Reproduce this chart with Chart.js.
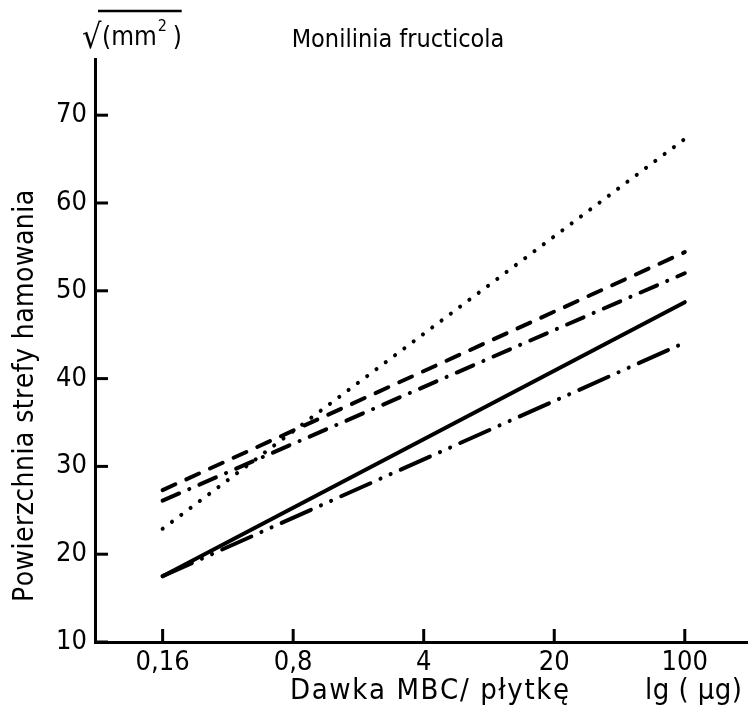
<!DOCTYPE html>
<html>
<head>
<meta charset="utf-8">
<script src="https://cdn.jsdelivr.net/npm/chart.js@4"></script>
<style>
  body { margin: 0; background: #fff; }
  #box { width: 748px; height: 711px; position: relative; }
</style>
</head>
<body>
<div id="box"><canvas id="mycanvas"></canvas></div>
<script>
// dose (ug per plate), log axis
var doses = [0.16, 0.8, 4, 20, 100];
var yTicks = [10, 20, 30, 40, 50, 60, 70];
// each line only known at its two ends (straight in lg scale)
var lineEnds = [0.16, 100];
var dotted = [22.9, 67.3];
var dashed = [27.3, 54.4];
var dashDot = [26.1, 52.0];
var solid = [17.5, 48.7];
var dashDotDot = [17.5, 44.1];

function pts(vals) {
	var out = [];
	for (var i in vals) out.push({x: lineEnds[i], y: vals[i]});
	return out;
}

var FONT = "'DejaVu Sans Condensed', 'DejaVu Sans', sans-serif";

function ds(label, vals, dash) {
	return {
		label: label,
		data: pts(vals),
		borderColor: '#000',
		borderWidth: 4,
		borderDash: dash,
		borderCapStyle: 'round',
		pointRadius: 0,
		fill: false,
		tension: 0
	};
}

// draw text stretched to a given width (letters spread out like the original lettering)
function spread(c, txt, x, y, w) {
	var chars = txt.split('');
	var total = c.measureText(txt).width;
	var gap = chars.length > 1 ? (w - total) / (chars.length - 1) : 0;
	c.textAlign = 'left';
	chars.forEach(function(ch){
		c.fillText(ch, x, y);
		x += c.measureText(ch).width + gap;
	});
}

var extras = {
	id: 'extras',
	afterDraw: function(chart) {
		var c = chart.ctx, x = chart.scales.x, y = chart.scales.y;
		var a = chart.chartArea;
		c.save();
		c.strokeStyle = '#000';
		c.lineWidth = 3;
		// inward ticks
		doses.forEach(function(v){
			var px = x.getPixelForValue(v);
			c.beginPath(); c.moveTo(px, a.bottom); c.lineTo(px, a.bottom - 13); c.stroke();
		});
		yTicks.forEach(function(v){
			var py = y.getPixelForValue(v);
			c.beginPath(); c.moveTo(a.left, py); c.lineTo(a.left + 13, py); c.stroke();
		});
		c.fillStyle = '#000';
		c.textBaseline = 'alphabetic';
		// unit  sqrt(mm^2)
		c.textAlign = 'left';
		c.font = '34px ' + FONT;
		c.fillText('\u221A', 82, 48);
		c.font = '26px ' + FONT;
		c.fillText('(mm', 102, 45);
		var wx = 102 + c.measureText('(mm').width + 1;
		c.font = '16px ' + FONT;
		c.fillText('2', wx, 31);
		c.font = '26px ' + FONT;
		c.fillText(')', wx + 15, 45);
		c.lineWidth = 2.5;
		c.beginPath(); c.moveTo(98, 11); c.lineTo(wx + 24, 11); c.stroke();
		// title
		c.font = '25px ' + FONT;
		c.textAlign = 'center';
		c.fillText('Monilinia fructicola', 398, 47);
		// y title
		c.save();
		c.translate(33, 602);
		c.rotate(-Math.PI / 2);
		c.font = '28px ' + FONT;
		spread(c, 'Powierzchnia strefy hamowania', 0, 0, 410);
		c.restore();
		// x title
		c.font = '29px ' + FONT;
		spread(c, 'Dawka MBC/ p\u0142ytk\u0119', 290, 699, 278);
		spread(c, 'lg ( \u00B5g)', 645, 699, 97);
		c.restore();
	}
};

var ctx = document.getElementById('mycanvas');
var lineGraph = new Chart(ctx, {
	type: 'line',
	data: {
		datasets: [
			ds('dotted', dotted, [0.1, 11.5]),
			ds('dashed', dashed, [14, 12]),
			ds('dash-dot', dashDot, [18, 11, 0.1, 11]),
			ds('solid', solid, []),
			ds('dash-dot-dot', dashDotDot, [32, 11, 0.1, 11, 0.1, 11])
		]
	},
	options: {
		responsive: true,
		maintainAspectRatio: false,
		animation: false,
		layout: { padding: { top: 59, right: 0, left: 0, bottom: 0 } },
		plugins: { legend: { display: false }, tooltip: { enabled: false } },
		scales: {
			x: {
				type: 'logarithmic',
				min: 0.0695,
				max: 218,
				afterBuildTicks: function(s){ s.ticks = doses.map(function(v){ return {value: v}; }); },
				afterFit: function(s){ s.height = 69; },
				grid: { display: false, drawTicks: false },
				border: { display: true, color: '#000', width: 3 },
				ticks: {
					color: '#000',
					font: { family: FONT, size: 27 },
					padding: 5,
					autoSkip: false,
					maxRotation: 0,
					callback: function(v){ return String(v).replace('.', ','); }
				}
			},
			y: {
				min: 10,
				max: 76.4,
				afterBuildTicks: function(s){ s.ticks = yTicks.map(function(v){ return {value: v}; }); },
				afterFit: function(s){ s.width = 95; },
				grid: { display: false, drawTicks: false },
				border: { display: true, color: '#000', width: 3 },
				ticks: {
					color: '#000',
					font: { family: FONT, size: 27 },
					padding: 8
				}
			}
		}
	},
	plugins: [extras]
});
</script>
</body>
</html>
